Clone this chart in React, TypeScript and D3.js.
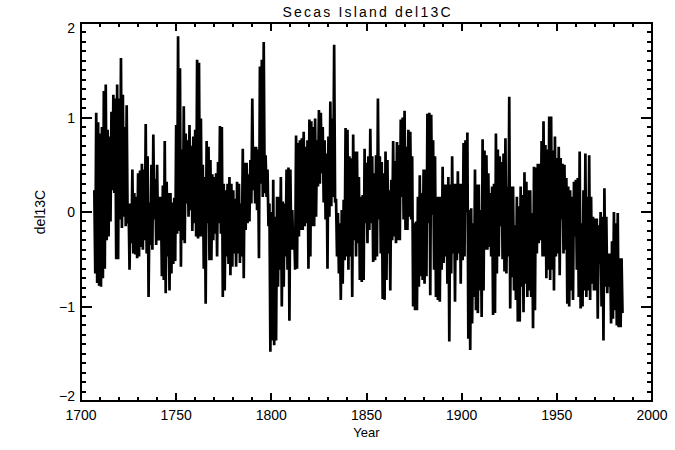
import React from 'react'
import * as d3 from 'd3'

// Secas Island coral del13C: one upper and one lower swing per year
const startYear = 1707
const highs = [
  0.23, 1.05, 0.95,
  0.83, 0.9, 1.28, 1.35, 0.87, 0.8, 1.06, 1.24, 1.2, 1.35,
  1.2, 1.63, 1.24, 0.9, 1.13, 0.09, 0.09, 0.45, 0.2, 0.16,
  0.41, 0.44, 0.51, 0.45, 0.93, 0.59, 0.1, 0.5, 0.82, 0.35,
  0.5, 0.16, 0.16, 0.28, 0.75, 0.32, 0.2, 0.2, 0.1, 0.15,
  0.92, 1.86, 1.52, 0.66, 1.12, 0.83, 0.76, 0.92, 0.7, 0.8,
  0.87, 1.61, 1.58, 0.99, 0.5, 0.37, 0.75, 0.69, 0.55, 0.4,
  0.37, 0.41, 0.53, 0.91, 0.9, 0.3, 0.23, 0.3, 0.37, 0.3,
  0.23, 0.14, 0.32, 0.3, 0.09, 0.67, 0.52, 0.52, 0.4, 0.55,
  1.2, 0.69, 0.69, 0.66, 1.54, 1.61, 1.8, 0.6, 0.45, 0.09,
  0.0, 0.34, -0.05, 0.16, 0.16, 0.37, 0.11, 0.09, 0.45, 0.47,
  0.45, 0.02, -0.19, 0.81, 0.73, 0.76, 0.78, 0.85, 0.69, 0.76,
  0.98, 0.96, 0.9, 0.99, 0.76, 1.08, 1.05, 0.9, 0.76, 0.62,
  0.8, 1.17, 0.99, 1.77, 0.14, -0.01, -0.12, 0.02, 0.13, 0.89,
  0.87, 0.59, 0.57, 0.82, 0.64, 0.64, 0.37, 0.16, 0.18, 0.67,
  0.52, 0.59, 0.88, 0.59, 0.41, 0.6, 1.2, 0.59, 0.53, 0.41,
  0.64, 0.55, 0.23, 0.34, 0.75, 0.54, 0.74, 0.71, 0.98, 1.0,
  1.07, 0.69, 0.87, 0.85, 0.59, -0.12, -0.1, 0.16, 0.39, 0.2,
  0.45, 0.45, 1.04, 1.05, 1.03, 0.76, 0.59, 0.16, 0.16, 0.16,
  0.48, 0.29, 0.29, 0.37, 0.29, 0.59, 0.3, 0.3, 0.43, 0.3,
  0.3, 0.73, 0.76, 0.84, 0.02, 0.04, -0.12, 0.45, 0.29, 0.29,
  0.02, 0.77, 0.65, 0.6, 0.41, 0.2, 0.27, 0.3, 0.83, 0.66,
  0.59, 0.53, 0.62, 0.78, 0.27, 1.22, 0.27, 0.27, -0.14, 0.16,
  0.06, 0.27, 0.18, 0.42, 0.32, 0.23, 0.23, -0.01, 0.48, 0.47,
  0.51, 0.51, 0.75, 0.96, 0.71, 0.66, 1.01, 1.01, 0.65, 0.8,
  0.57, 0.69, 0.57, 0.51, 0.5, 0.36, 0.27, 0.23, 0.16, 0.32,
  0.34, 0.36, 0.64, -0.12, 0.23, 0.62, 0.16, 0.6, 0.16, -0.05,
  -0.07, -0.07, -0.14, 0.0, -0.05, 0.25, -0.05, -0.44, -0.44, -0.31,
  0.0, -0.12, -0.01, -0.49, -0.49,
]
const lows = [
  -0.65, -0.75, -0.78,
  -0.79, -0.7, -0.6, -0.3, -0.26, -0.1, 0.23, 0.2, -0.5, -0.5,
  -0.08, -0.17, -0.05, -0.15, -0.12, -0.61, -0.33, -0.44, -0.45, -0.49,
  -0.47, -0.37, -0.4, -0.3, -0.44, -0.9, -0.35, -0.4, -0.08, -0.35,
  -0.3, -0.3, -0.68, -0.72, -0.86, -0.47, -0.83, -0.65, -0.55, -0.52,
  -0.23, -0.2, -0.58, -0.3, -0.33, 0.09, -0.05, 0.02, -0.2, -0.12,
  -0.26, -0.28, -0.26, -0.26, -0.6, -0.97, -0.12, -0.51, -0.51, -0.3,
  -0.23, -0.47, -0.12, -0.23, -0.9, -0.83, -0.47, -0.55, -0.67, -0.58,
  -0.44, -0.58, -0.44, -0.54, -0.47, -0.7, -0.19, -0.12, -0.1, 0.09,
  0.23, 0.09, 0.02, -0.49, 0.3, 0.16, 0.2, 0.16, -0.15, -1.48,
  -1.36, -1.41, -1.36, -0.79, -0.61, -1.0, -0.79, -0.47, -0.61, -1.15,
  -0.4, -0.4, -0.61, -0.6, -0.26, -0.19, -0.19, -0.15, -0.12, -0.6,
  -0.47, -0.15, -0.15, -0.05, 0.27, 0.3, 0.41, 0.1, -0.08, -0.6,
  -0.05, 0.06, 0.16, 0.1, -0.47, -0.65, -0.93, -0.76, -0.51, -0.47,
  -0.61, -0.47, -0.9, -0.3, -0.47, -0.33, -0.72, -0.74, -0.72, -0.12,
  -0.33, -0.19, -0.12, -0.53, -0.51, -0.47, -0.08, -0.44, -0.92, -0.93,
  -0.72, -0.44, -0.83, -0.3, -0.26, -0.33, -0.3, -0.3, 0.16, -0.08,
  -0.19, -0.19, -0.05, -0.08, -1.0, -1.04, -1.04, -0.79, -0.68, -0.72,
  -0.76, -0.68, -0.12, -0.88, -0.03, -0.61, -0.9, -0.93, -0.95, -0.61,
  -0.54, -0.47, -0.76, -1.37, -0.65, -0.44, -0.95, -0.51, -0.44, -0.76,
  -0.51, -0.47, 0.0, -1.34, -1.46, -1.18, -0.9, -1.04, -1.07, -0.83,
  -1.11, -0.83, -0.4, -0.4, -0.37, -0.47, -1.09, -1.07, -0.65, -0.47,
  -0.15, -0.5, -0.63, -0.65, -0.47, -1.02, -0.69, -0.83, -0.93, -1.16,
  -1.16, -0.79, -1.06, -0.76, -0.9, -0.83, -0.9, -1.23, -1.04, -0.44,
  -0.33, -0.3, -0.47, -0.47, -0.7, -0.61, -0.72, -0.61, -0.83, -0.47,
  -0.44, -0.67, -0.08, -0.44, -0.4, -0.97, -1.0, -0.83, -0.93, -0.26,
  -0.61, -0.9, -1.02, -1.0, -0.83, -0.9, -0.83, -0.93, -0.76, -0.83,
  -0.83, -1.13, -0.55, -1.0, -1.36, -0.79, -0.86, -0.79, -1.18, -1.13,
  -1.04, -1.2, -1.22, -1.22, -1.07,
]
const xTickLabels = [1700, 1750, 1800, 1850, 1900, 1950, 2000]
const yTickLabels = [-2, -1, 0, 1, 2]

const width = 675
const height = 450
const left = 81
const right = 652
const top = 23
const bottom = 401
const font = '"Liberation Sans", Arial, sans-serif'

const App = () => {
  const x = d3.scaleLinear().domain([1700, 2000]).range([left, right])
  const y = d3.scaleLinear().domain([-2, 2]).range([bottom, top])

  const points: [number, number][] = []
  highs.forEach((h, i) => {
    points.push([startYear + i, h])
    points.push([startYear + i + 0.5, lows[i]])
  })
  const line = d3
    .line<[number, number]>()
    .x(d => x(d[0]))
    .y(d => y(d[1]))

  const xMinor = x.ticks(30)
  const yMinor = y.ticks(40)
  const fmt = (v: number) => (v < 0 ? '\u2212' + Math.abs(v) : String(v))

  return (
    <div style={{position: 'fixed', left: 0, top: 0}}>
      <svg width={width} height={height} style={{display: 'block', background: '#fff'}}>
        <path d={line(points) || ''} fill="none" stroke="#000" strokeWidth={2.7} strokeLinejoin="miter" />

        <g stroke="#000" strokeWidth={2} shapeRendering="crispEdges">
          <rect x={left} y={top} width={right - left} height={bottom - top} fill="none" />
          {xMinor.map(t => {
            const major = xTickLabels.includes(t)
            const len = major ? 8 : 4
            return (
              <g key={'x' + t}>
                <line x1={x(t)} x2={x(t)} y1={bottom} y2={bottom - len} />
                <line x1={x(t)} x2={x(t)} y1={top} y2={top + len} />
              </g>
            )
          })}
          {yMinor.map(t => {
            const major = Math.abs(t - Math.round(t)) < 1e-6
            const len = major ? 11 : 5
            return (
              <g key={'y' + t}>
                <line x1={left} x2={left + len} y1={y(t)} y2={y(t)} />
                <line x1={right} x2={right - len} y1={y(t)} y2={y(t)} />
              </g>
            )
          })}
        </g>

        <g fontFamily={font} fontSize={14} fill="#000">
          {xTickLabels.map(t => (
            <text key={'xl' + t} x={x(t)} y={bottom + 19} textAnchor="middle">
              {t}
            </text>
          ))}
          {yTickLabels.map(t => {
            const yy = Math.min(Math.max(y(t) + 5, top + 10), bottom)
            return (
              <text key={'yl' + t} x={left - 6} y={yy} textAnchor="end">
                {fmt(t)}
              </text>
            )
          })}
          <text
            x={(left + right) / 2}
            y={17}
            textAnchor="middle"
            textLength={168}
            lengthAdjust="spacing"
          >
            Secas Island del13C
          </text>
          <text x={(left + right) / 2} y={437} textAnchor="middle" fontSize={13}>
            Year
          </text>
          <text
            transform={`translate(45, ${(top + bottom) / 2}) rotate(-90)`}
            textAnchor="middle"
          >
            del13C
          </text>
        </g>
      </svg>
    </div>
  )
}

export default App
